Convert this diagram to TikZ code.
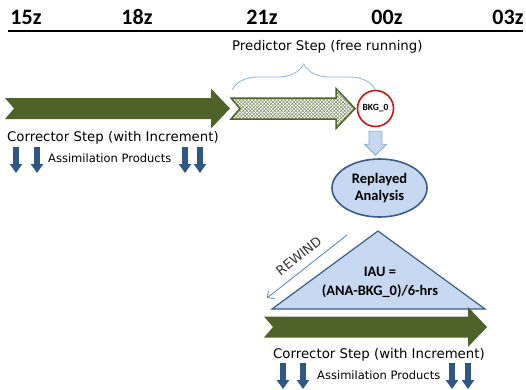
\documentclass[tikz,border=0pt]{standalone}
\usepackage{fontspec}
\setmainfont{Carlito}
\newfontfamily\handfont{DejaVu Sans}
\definecolor{stepgreen}{RGB}{79, 98, 40}
\definecolor{anafill}{RGB}{198, 217, 241}
\definecolor{anaedge}{RGB}{56, 93, 138}
\definecolor{feededge}{RGB}{140, 170, 205}
\definecolor{prodblue}{RGB}{46, 86, 134}
\definecolor{bracecol}{RGB}{141, 179, 226}
\definecolor{rewindcol}{RGB}{79, 129, 189}
\definecolor{bkgred}{RGB}{210, 20, 20}
\usetikzlibrary{decorations.pathreplacing, calc, shapes.geometric, arrows.meta, patterns}
\pgfdeclarepatternformonly{xhatch}{\pgfqpoint{-1pt}{-1pt}}{\pgfqpoint{4.5pt}{4.5pt}}%
    {\pgfqpoint{3.5pt}{3.5pt}}{\pgfsetlinewidth{0.5pt}
    \pgfpathmoveto{\pgfqpoint{0pt}{0pt}}\pgfpathlineto{\pgfqpoint{3.5pt}{3.5pt}}
    \pgfpathmoveto{\pgfqpoint{0pt}{3.5pt}}\pgfpathlineto{\pgfqpoint{3.5pt}{0pt}}
    \pgfusepath{stroke}}
\tikzset{
    every node/.style={transform shape},
    stepband/.pic={
        \path[pic actions] (0, -10.5) -- (#1-19, -10.5) -- (#1-19, -20) -- (#1, 0)
            -- (#1-19, 20) -- (#1-19, 10.5) -- (0, 10.5) -- (9, 0) -- cycle;
    },
    timelabel/.style={font=\bfseries\fontsize{22}{24}\selectfont, anchor=base,
        inner sep=0},
    handtext/.style={font=\handfont\fontsize{13.3}{15}\selectfont, inner sep=0,
        anchor=west},
    assimtext/.style={handtext, font=\handfont\fontsize{11.5}{13}\selectfont},
    prodarrow/.style={prodblue, line width=5.5pt,
        -{Triangle[width=12pt, length=9pt]}},
}

\begin{document}
\begin{tikzpicture}[x=1pt, y=-1pt]
    \useasboundingbox (0, 0) rectangle (526, 389);
    \node[timelabel] (t15) at (26, 24) {15z};
    \node[timelabel] (t18) at (137, 24) {18z};
    \node[timelabel] (t21) at (262, 24) {21z};
    \node[timelabel] (t00) at (387, 24) {00z};
    \node[timelabel] (t03) at (508, 24) {03z};
    \coordinate (axl) at (8, 31);
    \coordinate (axr) at (523, 31);
    \draw[line width=2pt] (axl) -- (axr);

    \pic[fill=stepgreen] at (5, 108.5) {stepband=225};
    \pic[draw=stepgreen, line width=1.5pt, pattern=xhatch,
        pattern color=stepgreen!70] at (231, 108.5) {stepband=124};
    \node[circle, draw=bkgred, line width=1.6pt, fill=white, minimum size=36pt,
        inner sep=0, font=\bfseries\fontsize{9.5}{10}\selectfont]
        (bkg) at (375.5, 108.5) {BKG\_0};

    \coordinate (brl) at (232, 90);
    \coordinate (brr) at (375.5, 90);
    \draw[bracecol, line width=0.8pt, decorate,
        decoration={brace, amplitude=26pt}] (brl) -- (brr);
    \node[handtext] (pred) at (232, 47) {Predictor Step (free running)};

    \node[handtext] (corr1) at (7, 138) {Corrector Step (with Increment)};
    \node[assimtext] (assim1) at (48, 158) {Assimilation Products};
    \foreach \x/\n in {16/a, 37/b, 185/c, 200/d} {
        \coordinate (pu\n) at (\x, 147);
        \draw[prodarrow] (pu\n) -- ++(0, 26);
    }

    \draw[draw=feededge, fill=anafill, line width=0.8pt]
        ($(bkg.south)+(-6.5, 4)$) -- ++(13, 0) -- ++(0, 13) -- ++(4.5, 0)
        -- ++(-11, 11) -- ++(-11, -11) -- ++(4.5, 0) -- cycle;
    \node[ellipse, draw=anaedge, line width=1.6pt, fill=anafill,
        minimum width=95pt, minimum height=58pt, inner sep=0, align=center,
        font=\bfseries\fontsize{14.5}{17}\selectfont]
        (ana) at (379.5, 188) {Replayed\\Analysis};

    \coordinate (iautop) at (378, 231);
    \coordinate (iaur) at (485, 309);
    \coordinate (iaul) at (272, 309);
    \draw[draw=anaedge, line width=1.2pt, fill=anafill]
        (iautop) -- (iaur) -- (iaul) -- cycle;
    \node[align=center, inner sep=0, font=\bfseries\fontsize{14.5}{19}\selectfont]
        (iau) at (380, 282) {IAU =\\(ANA-BKG\_0)/6-hrs};

    \coordinate (rwtop) at (347, 235);
    \coordinate (rwend) at (267, 298);
    \draw[rewindcol, line width=0.8pt, -{Straight Barb[length=5pt]}]
        (rwtop) -- (rwend) node[midway, sloped, above=5pt, anchor=south,
        font=\handfont\fontsize{13}{14}\selectfont, text=black!80] (rew) {REWIND};

    \pic[fill=stepgreen] at (264, 327) {stepband=223};
    \node[handtext] (corr2) at (273, 355) {Corrector Step (with Increment)};
    \node[assimtext] (assim2) at (317, 375) {Assimilation Products};
    \foreach \x/\n in {283/a, 303/b, 452/c, 468/d} {
        \coordinate (pl\n) at (\x, 363);
        \draw[prodarrow] (pl\n) -- ++(0, 26);
    }
\end{tikzpicture}
\end{document}
